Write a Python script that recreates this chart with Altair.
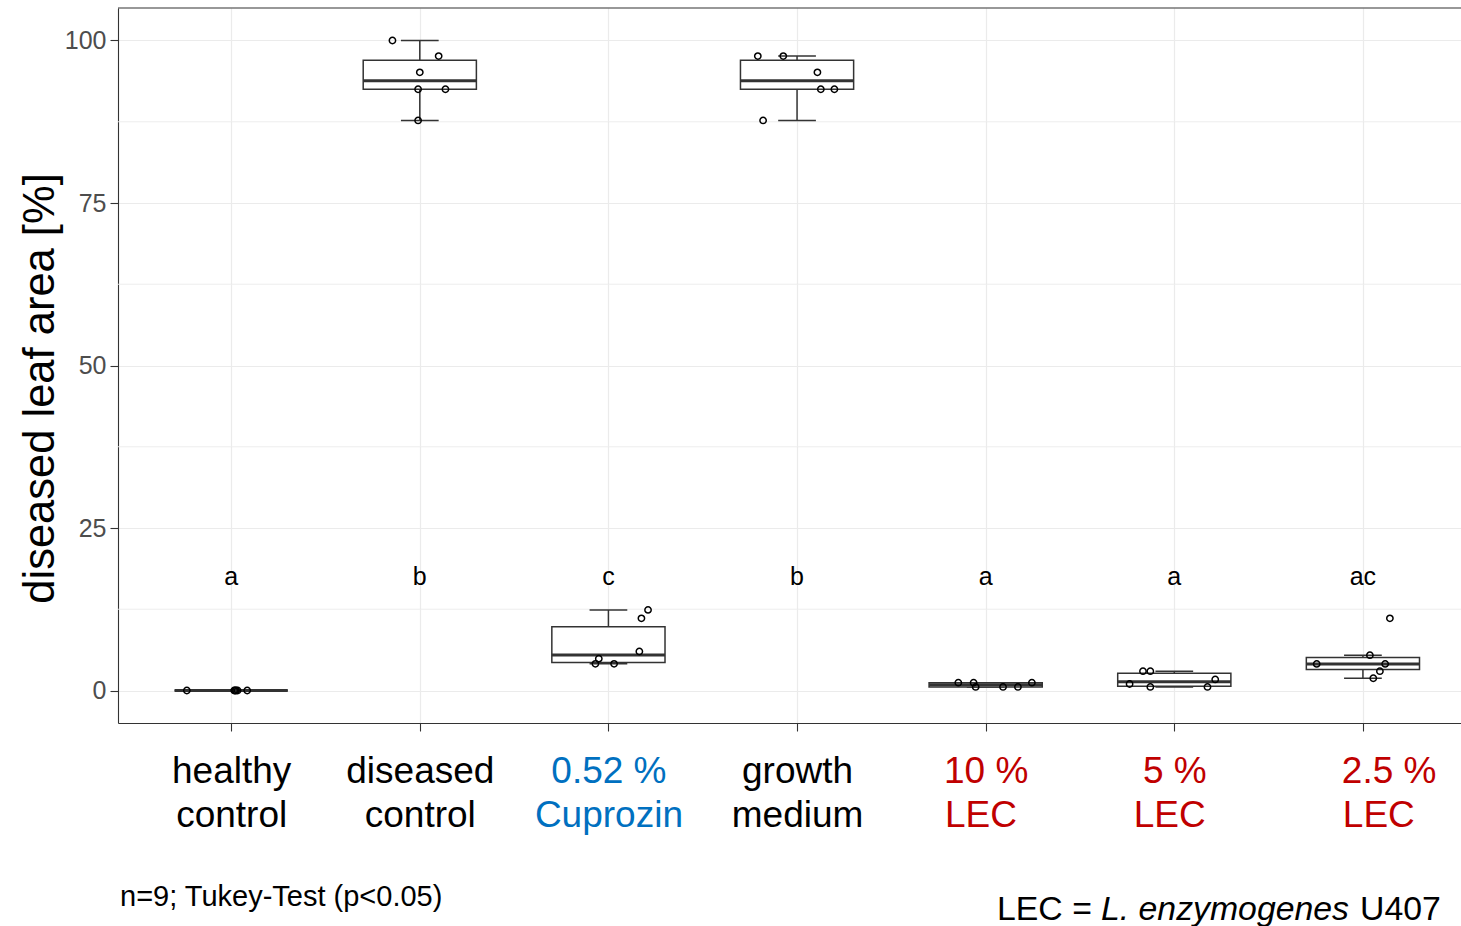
import altair as alt
import numpy as np
import pandas as pd

NB = "\u00a0"   # non-breaking space used as label padding
ZW = "\u200b"   # zero-width space, stops the padding from being trimmed

# Treatments, in plotting order (x positions 1..7)
label_lines = [
    ["healthy", "control"],
    ["diseased", "control"],
    ["0.52 %", "Cuprozin"],
    ["growth", "medium"],
    ["10 %", "LEC" + NB + ZW],
    ["5 %", "LEC" + NB + ZW],
    [ZW + NB * 5 + "2.5 %", ZW + NB * 3 + "LEC"],
]
label_colors = ["black", "black", "#0070C0", "black", "#C00000", "#C00000", "#C00000"]
letters = ["a", "b", "c", "b", "a", "a", "ac"]

# Diseased leaf area [%] per plant and the horizontal jitter of each point
healthy_vals = [0, 0, 0, 0, 0, 0]
healthy_jit = [-0.235, 0.016, 0.026, 0.034, 0.021, 0.085]
diseased_vals = [100, 97.6, 95.1, 92.5, 92.5, 87.7]
diseased_jit = [-0.145, 0.10, 0.0, -0.009, 0.136, -0.009]
cuprozin_vals = [12.4, 11.1, 6.0, 4.9, 4.1, 4.1]
cuprozin_jit = [0.21, 0.175, 0.164, -0.051, -0.069, 0.03]
medium_vals = [97.6, 97.6, 95.1, 92.5, 92.5, 87.7]
medium_jit = [-0.208, -0.073, 0.108, 0.126, 0.198, -0.18]
lec10_vals = [1.2, 1.2, 0.55, 0.55, 0.55, 1.2]
lec10_jit = [-0.145, -0.064, -0.053, 0.092, 0.171, 0.245]
lec5_vals = [2.97, 2.97, 1.7, 1.0, 0.55, 0.55]
lec5_jit = [-0.166, -0.127, 0.217, -0.237, -0.127, 0.176]
lec25_vals = [11.1, 5.43, 4.09, 4.09, 2.97, 1.89]
lec25_jit = [0.143, 0.037, -0.245, 0.118, 0.09, 0.055]

groups = [
    (healthy_vals, healthy_jit),
    (diseased_vals, diseased_jit),
    (cuprozin_vals, cuprozin_jit),
    (medium_vals, medium_jit),
    (lec10_vals, lec10_jit),
    (lec5_vals, lec5_jit),
    (lec25_vals, lec25_jit),
]

FONT = "Liberation Sans"
INK = "#333333"
GRID = "#EBEBEB"
LW = 1.5

# Long table of the observations
rows = []
for i, (vals, jit) in enumerate(groups, start=1):
    for v, j in zip(vals, jit):
        rows.append({"pos": i, "value": v, "jit": j})
points = pd.DataFrame(rows)


def box_stats(vals):
    v = np.asarray(vals, dtype=float)
    q1, med, q3 = np.percentile(v, [25, 50, 75])
    iqr = q3 - q1
    lo = v[v >= q1 - 1.5 * iqr].min()
    hi = v[v <= q3 + 1.5 * iqr].max()
    return q1, med, q3, lo, hi


stats = []
for i, (vals, _) in enumerate(groups, start=1):
    q1, med, q3, lo, hi = box_stats(vals)
    stats.append({"pos": i, "q1": q1, "med": med, "q3": q3, "lo": lo, "hi": hi,
                  "letter": letters[i - 1]})
stats = pd.DataFrame(stats)

xscale = alt.Scale(domain=[0.4, 7.52], nice=False, zero=False)
yscale = alt.Scale(domain=[-5, 105], nice=False, zero=False)

label_expr = "[" + ",".join(
    "[" + ",".join(f"'{s}'" for s in pair) + "]" for pair in label_lines
) + "][datum.value - 1]"
color_conditions = [
    {"test": f"datum.value == {i}", "value": c}
    for i, c in enumerate(label_colors, start=1) if c != "black"
]

x_axis = alt.Axis(
    values=list(range(1, 8)), labelExpr=label_expr,
    labelColor={"condition": color_conditions, "value": "black"},
    labelFontSize=37, labelLineHeight=44, labelPadding=22, labelAngle=0,
    labelFlush=False, labelOverlap=False, labelBound=False,
    tickSize=8, tickColor=INK, tickWidth=1.1,
    domainColor=INK, domainWidth=1.1,
    gridColor=GRID, gridWidth=1.2, title=None,
)
y_axis = alt.Axis(
    values=[0, 25, 50, 75, 100], labelFontSize=25, labelColor="#4D4D4D",
    labelPadding=4, tickSize=8, tickColor=INK, tickWidth=1.1,
    domainColor=INK, domainWidth=1.1, gridColor=GRID, gridWidth=1.2,
    title="diseased leaf area [%]", titleFontSize=43.5, titleFontWeight="normal",
    titleColor="black", titleAngle=270, titleX=-65, titleY=380,
    titleAlign="center", titleBaseline="alphabetic",
)

# Minor horizontal grid lines and the top edge of the panel frame
minor = pd.DataFrame({"y": [12.5, 37.5, 62.5, 87.5]})
minor_grid = alt.Chart(minor).mark_rule(color=GRID, strokeWidth=0.9).encode(
    y=alt.Y("y:Q", scale=yscale, axis=y_axis),
)
frame_top = alt.Chart(pd.DataFrame({"v": [105]})).mark_rule(
    color=INK, strokeWidth=1.1
).encode(y=alt.Y("v:Q", scale=yscale))

base = alt.Chart(stats)
X = alt.X("pos:Q", scale=xscale, axis=x_axis)

whisk_up = base.mark_rule(color=INK, strokeWidth=LW).encode(
    x=X, y=alt.Y("q3:Q", scale=yscale, axis=y_axis), y2="hi:Q")
whisk_dn = base.mark_rule(color=INK, strokeWidth=LW).encode(
    x=X, y=alt.Y("lo:Q", scale=yscale), y2="q1:Q")
cap_up = base.mark_rule(color=INK, strokeWidth=LW).transform_calculate(
    a="datum.pos - 0.1", b="datum.pos + 0.1").encode(
    x=alt.X("a:Q", scale=xscale), x2="b:Q", y=alt.Y("hi:Q", scale=yscale))
cap_dn = base.mark_rule(color=INK, strokeWidth=LW).transform_calculate(
    a="datum.pos - 0.1", b="datum.pos + 0.1").encode(
    x=alt.X("a:Q", scale=xscale), x2="b:Q", y=alt.Y("lo:Q", scale=yscale))
box = base.mark_rect(fill="white", stroke=INK, strokeWidth=LW).transform_calculate(
    l="datum.pos - 0.3", r="datum.pos + 0.3").encode(
    x=alt.X("l:Q", scale=xscale), x2="r:Q",
    y=alt.Y("q1:Q", scale=yscale), y2="q3:Q")
median = base.mark_rule(color=INK, strokeWidth=3).transform_calculate(
    l="datum.pos - 0.3", r="datum.pos + 0.3").encode(
    x=alt.X("l:Q", scale=xscale), x2="r:Q", y=alt.Y("med:Q", scale=yscale))

dots = alt.Chart(points).mark_point(
    shape="circle", filled=False, color="black", size=40, strokeWidth=1.5, opacity=1
).transform_calculate(xp="datum.pos + datum.jit").encode(
    x=alt.X("xp:Q", scale=xscale), y=alt.Y("value:Q", scale=yscale))

letter_text = base.mark_text(fontSize=25, font=FONT, color="black", baseline="middle").encode(
    x=alt.X("pos:Q", scale=xscale), y=alt.datum(17.5), text="letter:N")

one = pd.DataFrame({"k": [0]})
note_left = alt.Chart(one).mark_text(
    text="n=9; Tukey-Test (p<0.05)", fontSize=29, font=FONT, align="left",
    baseline="alphabetic", color="black"
).encode(x=alt.value(2), y=alt.value(898))
note_r1 = alt.Chart(one).mark_text(
    text="LEC =", fontSize=33.8, font=FONT, align="left", baseline="alphabetic",
    color="black").encode(x=alt.value(879), y=alt.value(912))
note_r2 = alt.Chart(one).mark_text(
    text="L. enzymogenes", fontSize=33.8, font=FONT, fontStyle="italic",
    align="left", baseline="alphabetic", color="black"
).encode(x=alt.value(983), y=alt.value(912))
note_r3 = alt.Chart(one).mark_text(
    text="U407", fontSize=33.8, font=FONT, align="left", baseline="alphabetic",
    color="black").encode(x=alt.value(1242), y=alt.value(912))

chart = alt.layer(
    whisk_up, minor_grid, frame_top, whisk_dn, cap_up, cap_dn, box, median, dots,
    letter_text, note_left, note_r1, note_r2, note_r3,
).properties(
    width=1343, height=715,
    padding={"left": 118, "top": 8, "right": 0, "bottom": 203},
    autosize=alt.AutoSizeParams(type="none"),
).configure(
    font=FONT, background="white",
).configure_view(stroke=None)

chart.save("out.html", embed_options={"renderer": "svg", "actions": False})
